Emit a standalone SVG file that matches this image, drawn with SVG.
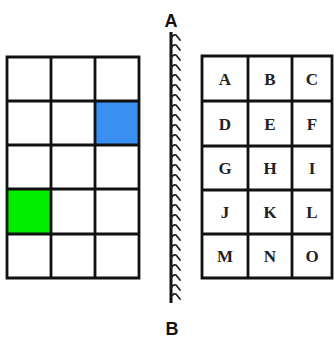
<svg xmlns="http://www.w3.org/2000/svg" width="334" height="340" viewBox="0 0 334 340">
<defs>
<style>
.g{fill:none;stroke:#111;stroke-width:2.8}
.t{font-family:"Liberation Serif",serif;font-weight:bold;font-size:17px;fill:#222;text-anchor:middle}
.ab{font-family:"Liberation Sans",sans-serif;font-weight:bold;font-size:18px;fill:#111;text-anchor:middle}
.h{fill:none;stroke:#222;stroke-width:1.8;stroke-linecap:round;stroke-linejoin:round}
</style>
<path id="hk" class="h" d="M171,1 Q173,-3 176,-2 L180,3"/>
</defs>
<rect width="334" height="340" fill="#fff"/>
<g id="left-grid">
<rect x="95" y="101" width="44" height="44" fill="#3a8ff2"/>
<rect x="7" y="189" width="44" height="45" fill="#00ee00"/>
<path class="g" d="M7,57H139V278H7Z M51,57V278 M95,57V278 M7,101H139 M7,145H139 M7,189H139 M7,234H139"/>
</g>
<g id="mirror">
<text class="ab" x="171" y="27">A</text>
<line x1="171" y1="32" x2="171" y2="303" stroke="#111" stroke-width="3"/>
<g>
<use href="#hk" y="37"/><use href="#hk" y="47"/><use href="#hk" y="57"/><use href="#hk" y="67"/>
<use href="#hk" y="77"/><use href="#hk" y="87"/><use href="#hk" y="97"/><use href="#hk" y="107"/>
<use href="#hk" y="117"/><use href="#hk" y="127"/><use href="#hk" y="137"/><use href="#hk" y="147"/>
<use href="#hk" y="157"/><use href="#hk" y="167"/><use href="#hk" y="177"/><use href="#hk" y="187"/>
<use href="#hk" y="197"/><use href="#hk" y="207"/><use href="#hk" y="217"/><use href="#hk" y="227"/>
<use href="#hk" y="237"/><use href="#hk" y="247"/><use href="#hk" y="257"/><use href="#hk" y="267"/>
<use href="#hk" y="277"/><use href="#hk" y="287"/><use href="#hk" y="296"/>
</g>
<text class="ab" x="172" y="335">B</text>
</g>
<g id="right-grid">
<path class="g" d="M202,56H332V278H202Z M248,56V278 M292,56V278 M202,101H332 M202,146H332 M202,190H332 M202,234H332"/>
<text class="t" x="225" y="85">A</text><text class="t" x="270" y="85">B</text><text class="t" x="312" y="85">C</text>
<text class="t" x="225" y="130">D</text><text class="t" x="270" y="130">E</text><text class="t" x="312" y="130">F</text>
<text class="t" x="225" y="174">G</text><text class="t" x="270" y="174">H</text><text class="t" x="312" y="174">I</text>
<text class="t" x="225" y="218">J</text><text class="t" x="270" y="218">K</text><text class="t" x="312" y="218">L</text>
<text class="t" x="225" y="262">M</text><text class="t" x="270" y="262">N</text><text class="t" x="312" y="262">O</text>
</g>
</svg>
